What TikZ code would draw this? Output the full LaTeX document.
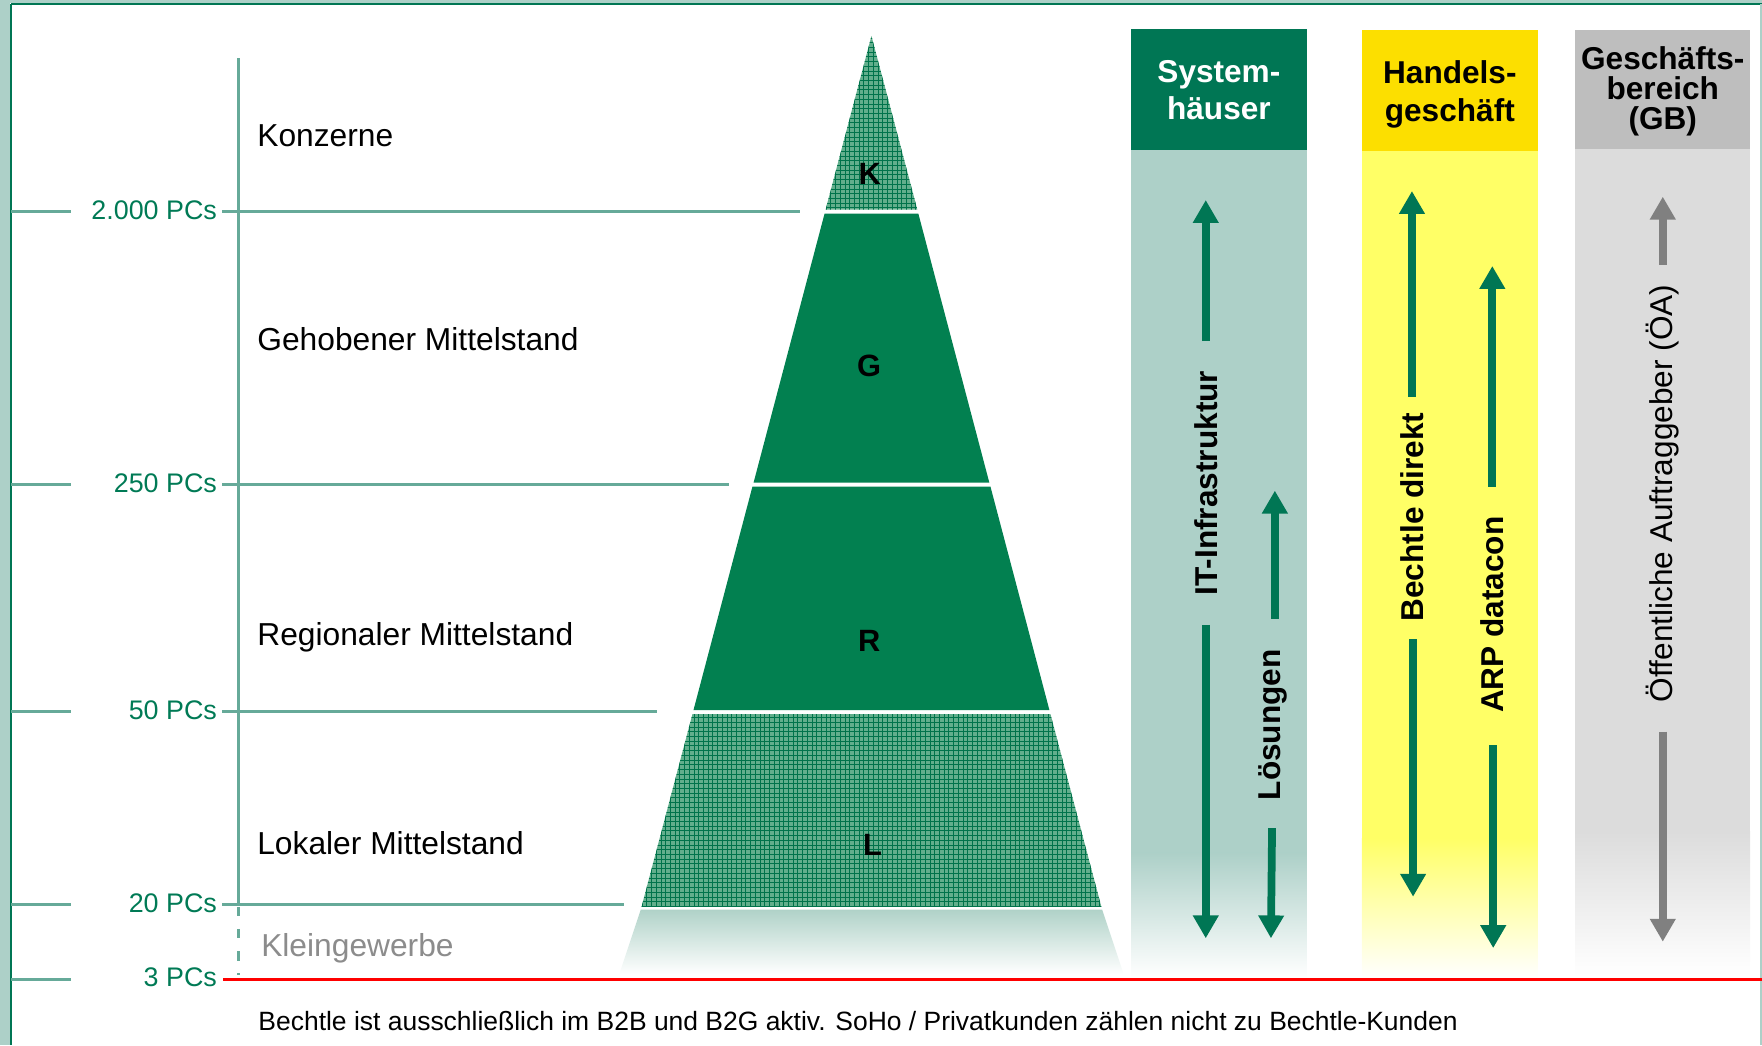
\documentclass[tikz,border=0pt]{standalone}
\usepackage{fontspec}
\setmainfont{Liberation Sans}
\usetikzlibrary{arrows.meta}

\definecolor{pyrgreen}{RGB}{2,128,80}
\definecolor{darkgreen}{RGB}{0,118,84}
\definecolor{axisteal}{RGB}{102,170,153}
\definecolor{lightteal}{RGB}{173,208,200}
\definecolor{kleinteal}{RGB}{176,210,200}
\definecolor{pcgreen}{RGB}{0,122,85}
\definecolor{hatchbg}{RGB}{98,174,140}
\definecolor{hatchline}{RGB}{0,115,75}
\definecolor{headyellow}{RGB}{252,223,0}
\definecolor{bodyyellow}{RGB}{255,255,102}
\definecolor{headgrey}{RGB}{190,190,190}
\definecolor{bodygrey}{RGB}{220,220,220}
\definecolor{kleingrey}{RGB}{140,140,140}
\definecolor{arrowgrey}{RGB}{128,128,128}

\begin{document}
\begin{tikzpicture}
[x=0.25mm,y=-0.25mm,%
  every node/.style={inner sep=0pt,outer sep=0pt},%
  segment/.style={font={\fontsize{20.1}{24}\selectfont},anchor=base west},%
  pcs/.style={font={\fontsize{17}{20}\selectfont},text=pcgreen,anchor=base east},%
  level/.style={draw=axisteal,line width=1.8pt},%
  letter/.style={font={\fontsize{19.5}{22}\selectfont\bfseries}},%
  head/.style={font={\fontsize{20}{23.5}\selectfont\bfseries},align=center},%
  vlabel/.style={font={\fontsize{20}{24}\selectfont\bfseries},rotate=90},%
  flowarrow/.style={-{Triangle[length=14.5pt,width=15.5pt]},line width=4.9pt,draw=darkgreen},%
  flowgrey/.style={flowarrow,draw=arrowgrey}]
\useasboundingbox (0,0) rectangle (1568,930);

% frame
\fill[lightteal] (0,0) rectangle (8.5,930);
\fill[lightteal] (0,0) rectangle (1568,2.4);
\draw[darkgreen,line width=1.7pt] (9.8,3.3) -- (9.8,930);
\draw[darkgreen,line width=1.3pt] (9.8,3.3) -- (1568,3.3);
\draw[lightteal,line width=1pt] (1567,4) -- (1567,930);

% scale
\draw[level] (212,52) -- (212,805);
\draw[level,dash pattern=on 6pt off 8pt] (212,807) -- (212,868);
\foreach \y/\xe/\t/\n in {188.5/711.5/2.000 PCs/k, 431/649/250 PCs/g,
                          633.5/584.5/50 PCs/r, 805/555/20 PCs/l} {
  \draw[level] (10,\y) -- (63,\y);
  \draw[level] (198,\y) -- (\xe,\y);
  \node[pcs] (pc\n) at (193,{\y+7}) {\t};
}
\draw[level] (10,872) -- (63,872);
\node[pcs] (pcs) at (193,877.5) {3 PCs};

\node[segment] (konz) at (229,130) {Konzerne};
\node[segment] (gehob) at (229,312) {Gehobener Mittelstand};
\node[segment] (region) at (229,574) {Regionaler Mittelstand};
\node[segment] (lokal) at (229,760.5) {Lokaler Mittelstand};
\node[segment,text=kleingrey] (klein) at (232.5,851) {Kleingewerbe};

% pyramid
\begin{scope}
  \clip (775.5,32) -- (816.3,186.5) -- (734.7,186.5) -- cycle;
  \fill[hatchbg] (720,30) rectangle (830,190);
  \draw[hatchline,line width=0.3pt,step=1.05mm] (720,190) grid (830,30);
\end{scope}
\fill[pyrgreen] (733.8,190) -- (817.2,190) -- (880.4,429.5) -- (670.6,429.5) -- cycle;
\fill[pyrgreen] (669.6,433) -- (881.4,433) -- (933.9,632) -- (617.1,632) -- cycle;
\begin{scope}
  \clip (616.2,635.5) -- (934.8,635.5) -- (980.1,807) -- (570.9,807) -- cycle;
  \fill[hatchbg] (560,630) rectangle (990,810);
  \draw[hatchline,line width=0.3pt,step=1.05mm] (560,810) grid (990,630);
\end{scope}
\shade[top color=kleinteal,bottom color=white]
  (570.2,809.5) -- (980.8,809.5) -- (1000,867) -- (551,867) -- cycle;
\node[letter] (lk) at (774,155) {K};
\node[letter] (lg) at (773.5,325.5) {G};
\node[letter] (lr) at (773.5,570.5) {R};
\node[letter] (ll) at (776.5,752) {L};

% columns
\fill[lightteal] (1006.5,133) rectangle (1163,760);
\shade[top color=lightteal,bottom color=white] (1006.5,759) rectangle (1163,870);
\fill[darkgreen] (1006.5,26) rectangle (1163,133.5);
\fill[bodyyellow] (1212,134) rectangle (1368.5,747);
\shade[top color=bodyyellow,bottom color=white] (1212,746) rectangle (1368.5,870);
\fill[headyellow] (1212,27) rectangle (1368.5,134.5);
\fill[bodygrey] (1402,132) rectangle (1557.5,741);
\shade[top color=bodygrey,bottom color=white] (1402,740) rectangle (1557.5,868);
\fill[headgrey] (1402,27) rectangle (1557.5,132.5);

\node[head,text=white] (hsys) at (1084.7,80) {System-\\häuser};
\node[head] (hhan) at (1290.2,84) {Handels-\\geschäft};
\node[head,font={\fontsize{20}{19}\selectfont\bfseries}] (hgb) at (1479.7,81.4) {Geschäfts-\\bereich\\(GB)};

\node[vlabel] (itinfra) at (1073,430) {IT-Infrastruktur};
\node[vlabel] (loesung) at (1133,645) {Lösungen};
\node[vlabel] (direkt) at (1256.5,460) {Bechtle direkt};
\node[vlabel] (arp) at (1328,547) {ARP datacon};
\node[vlabel,font={\fontsize{20}{24}\selectfont}] (oeff) at (1479.7,439) {Öffentliche Auftraggeber (ÖA)};

\coordinate (itupA) at (1073,303.5);   \coordinate (itupB) at (1073,178);
\coordinate (itdnA) at (1073,556);     \coordinate (itdnB) at (1073,835);
\coordinate (lsupA) at (1134.5,550.7); \coordinate (lsupB) at (1134.5,436.6);
\coordinate (lsdnA) at (1132,737);     \coordinate (lsdnB) at (1131,835);
\coordinate (bdupA) at (1256.5,353);   \coordinate (bdupB) at (1256.5,170);
\coordinate (bddnA) at (1257.5,568.7); \coordinate (bddnB) at (1257.5,798);
\coordinate (arupA) at (1328,433);     \coordinate (arupB) at (1328,236.7);
\coordinate (ardnA) at (1328.8,663);   \coordinate (ardnB) at (1328.8,843.7);
\coordinate (oaupA) at (1479.7,235.7); \coordinate (oaupB) at (1479.7,175);
\coordinate (oadnA) at (1479.7,651);   \coordinate (oadnB) at (1479.7,838);

\draw[flowarrow] (itupA) -- (itupB);
\draw[flowarrow] (itdnA) -- (itdnB);
\draw[flowarrow] (lsupA) -- (lsupB);
\draw[flowarrow] (lsdnA) -- (lsdnB);
\draw[flowarrow] (bdupA) -- (bdupB);
\draw[flowarrow] (bddnA) -- (bddnB);
\draw[flowarrow] (arupA) -- (arupB);
\draw[flowarrow] (ardnA) -- (ardnB);
\draw[flowgrey] (oaupA) -- (oaupB);
\draw[flowgrey] (oadnA) -- (oadnB);

% limit
\draw[red,line width=2pt] (198.7,872) -- (1568,872);
\node[anchor=base west,font={\fontsize{16.75}{20}\selectfont}] (note) at (230,917)
  {Bechtle ist ausschließlich im B2B und B2G aktiv. SoHo / Privatkunden zählen nicht zu Bechtle-Kunden};
\end{tikzpicture}
\end{document}
